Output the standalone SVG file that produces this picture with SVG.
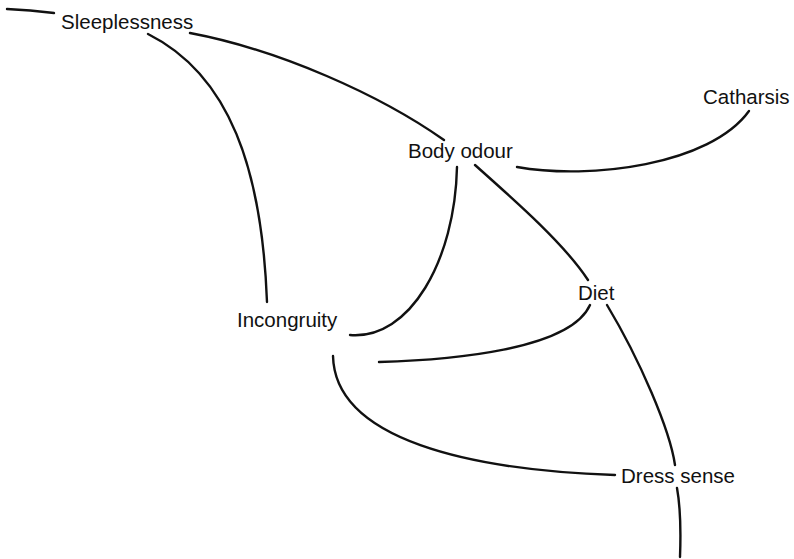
<svg xmlns="http://www.w3.org/2000/svg" width="794" height="559" viewBox="0 0 794 559">
<style>
.lbl{font-family:"Liberation Sans",Arial,sans-serif;font-size:20.5px;fill:#111;}
.edge{fill:none;stroke:#111;stroke-width:2.4;stroke-linecap:round;}
</style>
<rect width="794" height="559" fill="#fff"/>
<g id="connectors">
<path class="edge" d="M7,9 Q30,10 54,13"/>
<path class="edge" d="M190,33 C280,50 380,95 444,140"/>
<path class="edge" d="M148,34 C230,75 262,170 267,302"/>
<path class="edge" d="M517,167 C590,180 710,165 749,111"/>
<path class="edge" d="M457,167 C455,260 410,340 350,335"/>
<path class="edge" d="M475,165 C520,205 565,245 588,280"/>
<path class="edge" d="M590,305 C570,350 450,360 379,362"/>
<path class="edge" d="M607,305 C640,360 670,430 675,465"/>
<path class="edge" d="M677,488 C681,510 681,530 680,557"/>
<path class="edge" d="M333,356 C335,440 470,470 615,475"/>
</g>
<g id="sleeplessness"><text class="lbl" x="61" y="29">Sleeplessness</text></g>
<g id="body-odour"><text class="lbl" x="408" y="158">Body odour</text></g>
<g id="catharsis"><text class="lbl" x="703" y="104">Catharsis</text></g>
<g id="incongruity"><text class="lbl" x="237" y="327">Incongruity</text></g>
<g id="diet"><text class="lbl" x="578" y="300">Diet</text></g>
<g id="dress-sense"><text class="lbl" x="621" y="483">Dress sense</text></g>
</svg>
